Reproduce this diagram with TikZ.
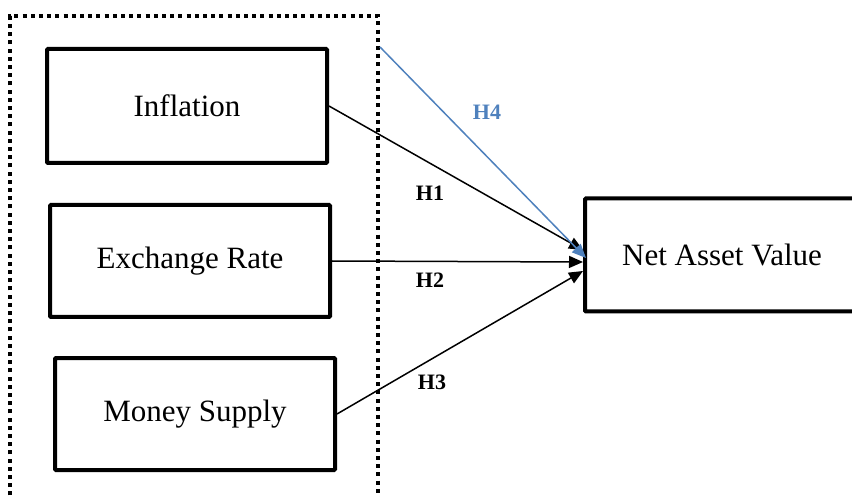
\documentclass[tikz,border=0pt]{standalone}
\usepackage{fontspec}
\setmainfont{Liberation Serif}
\usetikzlibrary{arrows.meta}
\definecolor{hblue}{RGB}{79,129,189}
\begin{document}
\begin{tikzpicture}[x=1pt,y=-1pt,
  varbox/.style={draw,line width=4pt,rounded corners=1pt,inner sep=0pt,font=\fontsize{31}{34}\selectfont},
  link/.style={line width=1.5pt,-{Triangle[length=14pt,width=12pt]}},
  hlab/.style={font=\fontsize{22}{24}\selectfont\bfseries}]
\useasboundingbox (0,0) rectangle (852,497);
\draw[line width=4pt,dash pattern=on 4pt off 4.2pt] (10,520) -- (10,16) -- (378,16) -- (378,520);
\node[varbox,minimum width=280pt,minimum height=114pt] (inf) at (187,106) {Inflation};
\node[varbox,minimum width=280pt,minimum height=112pt] (exr) at (190,261) {Exchange Rate};
\node[varbox,minimum width=280pt,minimum height=112pt] (mon) at (195,414) {Money Supply};
\node[varbox,minimum width=290pt,minimum height=113pt,anchor=west] (nav) at (583,255) {};
\node[font=\fontsize{31}{34}\selectfont] (navt) at (722,255) {Net Asset Value};
\coordinate (h4s) at (380,47);
\coordinate (t1) at (583,250);
\coordinate (t2) at (583,262);
\coordinate (t3) at (583,271);
\coordinate (t4) at (586,258);
\draw[link] (inf.east) -- (t1);
\draw[link] (exr.east) -- (t2);
\draw[link] (mon.east) -- (t3);
\draw[link,hblue] (h4s) -- (t4);
\node[hlab,text=hblue] (l4) at (487,112) {H4};
\node[hlab] (l1) at (430,193) {H1};
\node[hlab] (l2) at (430,280) {H2};
\node[hlab] (l3) at (432,382) {H3};
\end{tikzpicture}
\end{document}
